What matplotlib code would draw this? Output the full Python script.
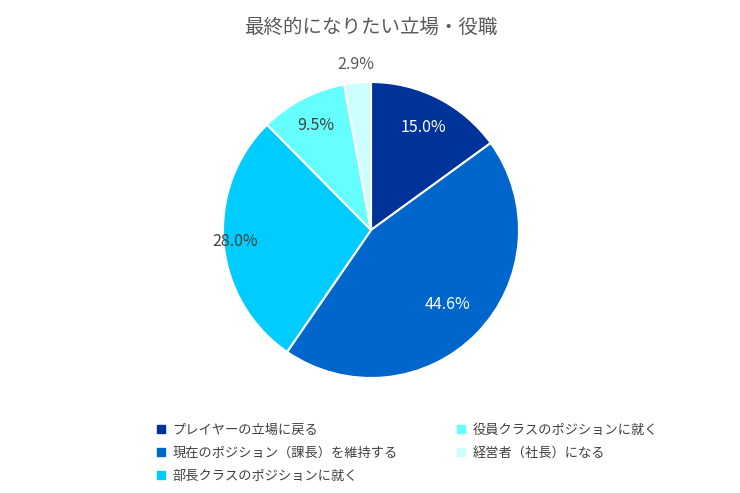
import matplotlib
matplotlib.use("Agg")
import matplotlib.pyplot as plt
from matplotlib.patches import Patch

plt.rcParams['font.family'] = ['Noto Sans CJK JP', 'DejaVu Sans']

labels = ["プレイヤーの立場に戻る", "現在のポジション（課長）を維持する",
          "部長クラスのポジションに就く", "役員クラスのポジションに就く", "経営者（社長）になる"]
values = [15.0, 44.6, 28.0, 9.5, 2.9]
colors = ["#003399", "#0066CC", "#00CCFF", "#66FFFF", "#CCFFFF"]
text_colors = ["white", "white", "#404040", "#404040", "#595959"]
label_r = [0.78, 0.72, 0.92, 0.80, 1.12]

fig = plt.figure(figsize=(7.4, 4.93), dpi=100)
ax = fig.add_axes([(371-148)/740, (493-378)/493, 296/740, 296/493])
wedges, _ = ax.pie(values, colors=colors, startangle=90, counterclock=False,
                   wedgeprops=dict(edgecolor="white", linewidth=1.5))
import numpy as np
for w, v, c, r in zip(wedges, values, text_colors, label_r):
    ang = np.deg2rad((w.theta1 + w.theta2) / 2)
    ax.text(r*np.cos(ang), r*np.sin(ang), f"{v:.1f}%", ha="center", va="center",
            color=c, fontsize=11.5)
ax.set_xlim(-1, 1); ax.set_ylim(-1, 1)
ax.set_aspect("equal")

fig.text(371/740, 1-27/493, "最終的になりたい立場・役職", ha="center", va="center",
         fontsize=14, color="#595959")

handles = [Patch(facecolor=c, edgecolor=c) for c in colors]
fig.legend(handles, labels, ncol=2, loc="upper left", bbox_to_anchor=(145/740, 1-412/493),
           frameon=False, fontsize=9.5, handlelength=0.6, handleheight=0.6,
           columnspacing=4.5, labelspacing=0.75, handletextpad=0.6,
           labelcolor="#404040")
fig.savefig("out.png", dpi=100)
